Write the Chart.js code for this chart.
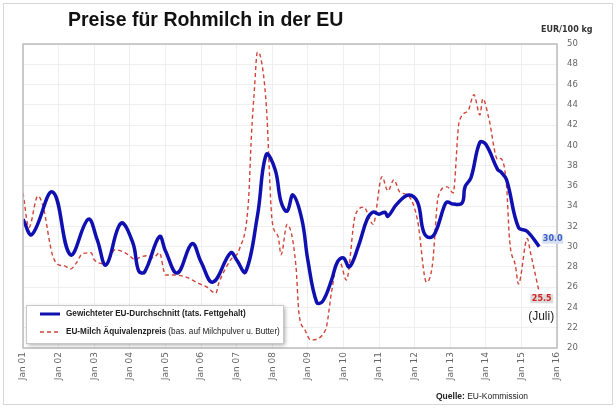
<!DOCTYPE html>
<html>
<head>
<meta charset="utf-8">
<script src="https://cdn.jsdelivr.net/npm/chart.js@4"></script>
<style>
  html, body { margin: 0; padding: 0; background: #fff; }
</style>
</head>
<body>
<canvas id="graph" width="616" height="408"></canvas>
<script>
// Monatsindex ab Jan 2001 (0 = Jan 01, 12 = Jan 02, ...)
const avgMonths = [0, 3, 10, 16, 22, 25, 28, 33, 37, 39, 41, 46, 48, 52, 57, 60, 64, 70, 72, 75,
  79, 82, 85, 87, 89, 91, 94, 96, 99, 101, 104, 106, 108, 110, 113, 116, 118, 120, 122, 123,
  126, 130, 133, 135, 137, 139, 142, 143, 145, 148, 149, 151, 154, 156, 160, 161, 163, 167, 170, 174];
const avgPrice = [32.7, 31.2, 35.4, 29.2, 32.7, 30.7, 28.2, 32.3, 30.4, 27.6, 27.5, 31.0, 29.6, 27.4, 30.3, 28.5, 26.5, 29.4, 28.7, 27.5,
  33.0, 39.1, 37.6, 34.4, 33.5, 35.1, 32.7, 28.7, 24.5, 24.6, 26.7, 28.5, 28.9, 28.0, 30.0, 32.7, 33.4, 33.2, 33.4, 33.0,
  34.2, 35.1, 34.4, 31.5, 30.9, 31.4, 34.0, 34.4, 34.2, 34.3, 35.9, 36.8, 40.3, 40.1, 37.6, 37.4, 36.6, 31.9, 31.5, 30.0];

const eqMonths = [0, 2, 5, 7, 9, 10, 12, 14, 16, 18, 20, 23, 24, 28, 31, 35, 38, 39, 42, 44,
  46, 48, 51, 55, 59, 62, 65, 66, 70, 73, 76, 77, 78, 79, 80, 82, 84, 86, 87, 89,
  92, 93, 95, 97, 102, 104, 106, 107, 109, 112, 115, 116, 118, 121, 123, 125, 127, 130, 133, 136,
  138, 140, 143, 145, 147, 150, 152, 154, 155, 157, 160, 161, 163, 164, 166, 167, 170, 171, 174];
const eqPrice = [35.3, 31.9, 35.0, 33.7, 30.4, 29.1, 28.2, 28.1, 27.8, 28.4, 29.3, 29.4, 28.7, 28.3, 29.7, 29.3, 28.7, 28.9, 29.1, 28.9,
  29.4, 27.2, 27.2, 27.0, 26.4, 26.0, 25.4, 26.4, 28.7, 29.8, 34.5, 41.0, 45.5, 49.2, 48.8, 44.0, 32.5, 31.0, 29.2, 32.2,
  28.1, 23.5, 21.8, 20.8, 21.8, 25.5, 28.5, 28.4, 26.7, 33.1, 33.9, 33.4, 32.2, 36.9, 35.5, 36.6, 35.4, 35.0, 32.6, 26.5,
  28.2, 35.0, 35.9, 35.3, 42.3, 43.4, 45.0, 43.0, 44.6, 42.7, 38.6, 38.7, 36.0, 30.7, 28.1, 26.3, 30.8, 29.5, 25.5];

const xTickLabels = ["Jan 01", "Jan 02", "Jan 03", "Jan 04", "Jan 05", "Jan 06", "Jan 07", "Jan 08",
  "Jan 09", "Jan 10", "Jan 11", "Jan 12", "Jan 13", "Jan 14", "Jan 15", "Jan 16"];

const blue = "#1010b0";
const red = "#d04438";

const toPoints = (xs, ys) => xs.map((x, i) => ({ x: x, y: ys[i] }));

// Rahmen, Titel, Legende und Beschriftungen
const extras = {
  id: "extras",
  beforeDraw(chart) {
    const ctx = chart.ctx;
    ctx.save();
    ctx.fillStyle = "#fff";
    ctx.fillRect(0, 0, chart.width, chart.height);
    ctx.strokeStyle = "#d6d6d6";
    ctx.lineWidth = 1;
    ctx.strokeRect(3.5, 3.5, 609, 401);
    ctx.restore();
  },
  afterDraw(chart) {
    const ctx = chart.ctx;
    const a = chart.chartArea;
    const xs = chart.scales.x, ys = chart.scales.y;
    ctx.save();

    // Plotrahmen
    ctx.strokeStyle = "#bcbcbc";
    ctx.lineWidth = 1.5;
    ctx.strokeRect(a.left, a.top, a.right - a.left, a.bottom - a.top);

    // Titel
    ctx.fillStyle = "#111";
    ctx.font = "bold 19.5px 'Liberation Sans', Arial, sans-serif";
    ctx.textBaseline = "middle";
    ctx.textAlign = "left";
    ctx.fillText("Preise für Rohmilch in der EU", 68, 21);

    // Einheit
    ctx.fillStyle = "#333";
    ctx.font = "bold 8px 'DejaVu Sans', Verdana, sans-serif";
    ctx.fillText("EUR/100 kg", 541, 30);

    // Legende
    ctx.save();
    ctx.shadowColor = "rgba(0,0,0,0.35)";
    ctx.shadowBlur = 4;
    ctx.shadowOffsetX = 2;
    ctx.shadowOffsetY = 2;
    ctx.fillStyle = "#fff";
    ctx.fillRect(26, 305, 257, 38);
    ctx.restore();
    ctx.strokeStyle = "#c8c8c8";
    ctx.lineWidth = 1;
    ctx.strokeRect(26.5, 305.5, 257, 38);

    ctx.strokeStyle = blue;
    ctx.lineWidth = 3;
    ctx.beginPath();
    ctx.moveTo(40, 314);
    ctx.lineTo(60, 314);
    ctx.stroke();

    ctx.strokeStyle = red;
    ctx.lineWidth = 1.4;
    ctx.setLineDash([4, 3]);
    ctx.beginPath();
    ctx.moveTo(40, 332);
    ctx.lineTo(60, 332);
    ctx.stroke();
    ctx.setLineDash([]);

    ctx.fillStyle = "#222";
    ctx.font = "bold 8.2px 'Liberation Sans', Arial, sans-serif";
    ctx.fillText("Gewichteter EU-Durchschnitt (tats. Fettgehalt)", 66, 314);
    const boldPart = "EU-Milch Äquivalenzpreis";
    ctx.fillText(boldPart, 66, 332);
    const w = ctx.measureText(boldPart).width;
    ctx.font = "8.2px 'Liberation Sans', Arial, sans-serif";
    ctx.fillText(" (bas. auf Milchpulver u. Butter)", 66 + w, 332);

    // Endwerte
    const lastA = avgPrice[avgPrice.length - 1];
    const lastE = eqPrice[eqPrice.length - 1];
    const bx = xs.getPixelForValue(avgMonths[avgMonths.length - 1]);
    const by = ys.getPixelForValue(lastA);
    ctx.fillStyle = "#d9dff0";
    ctx.fillRect(bx + 3, by - 12, 21, 9);
    ctx.fillStyle = "#3c62c8";
    ctx.font = "bold 8px 'DejaVu Sans', Verdana, sans-serif";
    ctx.textAlign = "center";
    ctx.fillText(lastA.toFixed(1), bx + 13.5, by - 7.5);

    const rx = xs.getPixelForValue(eqMonths[eqMonths.length - 1]);
    const ry = ys.getPixelForValue(lastE);
    ctx.fillStyle = "#dcdcdc";
    ctx.fillRect(rx - 9, ry + 2, 23, 9);
    ctx.fillStyle = "#d42020";
    ctx.fillText(lastE.toFixed(1), rx + 2.5, ry + 6.5);

    ctx.fillStyle = "#222";
    ctx.font = "12px 'Liberation Sans', Arial, sans-serif";
    ctx.fillText("(Juli)", rx + 2, ry + 24);

    // Quelle
    ctx.textAlign = "left";
    ctx.font = "bold 8.5px 'Liberation Sans', Arial, sans-serif";
    ctx.fillText("Quelle:", 436, 397);
    const qw = ctx.measureText("Quelle:").width;
    ctx.font = "8.5px 'Liberation Sans', Arial, sans-serif";
    ctx.fillText(" EU-Kommission", 436 + qw, 397);

    ctx.restore();
  }
};

const tickFont = { family: "'DejaVu Sans', Verdana, sans-serif", size: 9 };

let config = {
  type: "line",
  data: {
    datasets: [
      {
        label: "Gewichteter EU-Durchschnitt (tats. Fettgehalt)",
        data: toPoints(avgMonths, avgPrice),
        borderColor: blue,
        borderWidth: 3.5,
        pointRadius: 0,
        tension: 0.4,
        fill: false,
      },
      {
        label: "EU-Milch Äquivalenzpreis (bas. auf Milchpulver u. Butter)",
        data: toPoints(eqMonths, eqPrice),
        borderColor: red,
        borderWidth: 1.4,
        borderDash: [4, 3],
        pointRadius: 0,
        cubicInterpolationMode: "monotone",
        fill: false,
      },
    ],
  },
  options: {
    responsive: false,
    animation: false,
    layout: { padding: { left: 23, top: 44, right: 0, bottom: 0 } },
    plugins: {
      legend: { display: false },
      tooltip: { enabled: false },
    },
    scales: {
      x: {
        type: "linear",
        min: 0,
        max: 180,
        afterFit: (s) => { s.height = 60; },
        ticks: {
          stepSize: 12,
          autoSkip: false,
          minRotation: 90,
          maxRotation: 90,
          padding: 4,
          color: "#666",
          font: tickFont,
          callback: (v) => xTickLabels[v / 12],
        },
        grid: { color: "#efefef", drawTicks: false },
        border: { display: false },
      },
      y: {
        position: "right",
        min: 20,
        max: 50,
        afterFit: (s) => { s.width = 59; },
        ticks: {
          stepSize: 2,
          padding: 10,
          color: "#666",
          font: { family: "'DejaVu Sans', Verdana, sans-serif", size: 8.5 },
        },
        grid: { color: "#efefef", drawTicks: false },
        border: { display: false },
      },
    },
  },
  plugins: [extras],
};

new Chart(document.getElementById("graph"), config);
</script>
</body>
</html>
